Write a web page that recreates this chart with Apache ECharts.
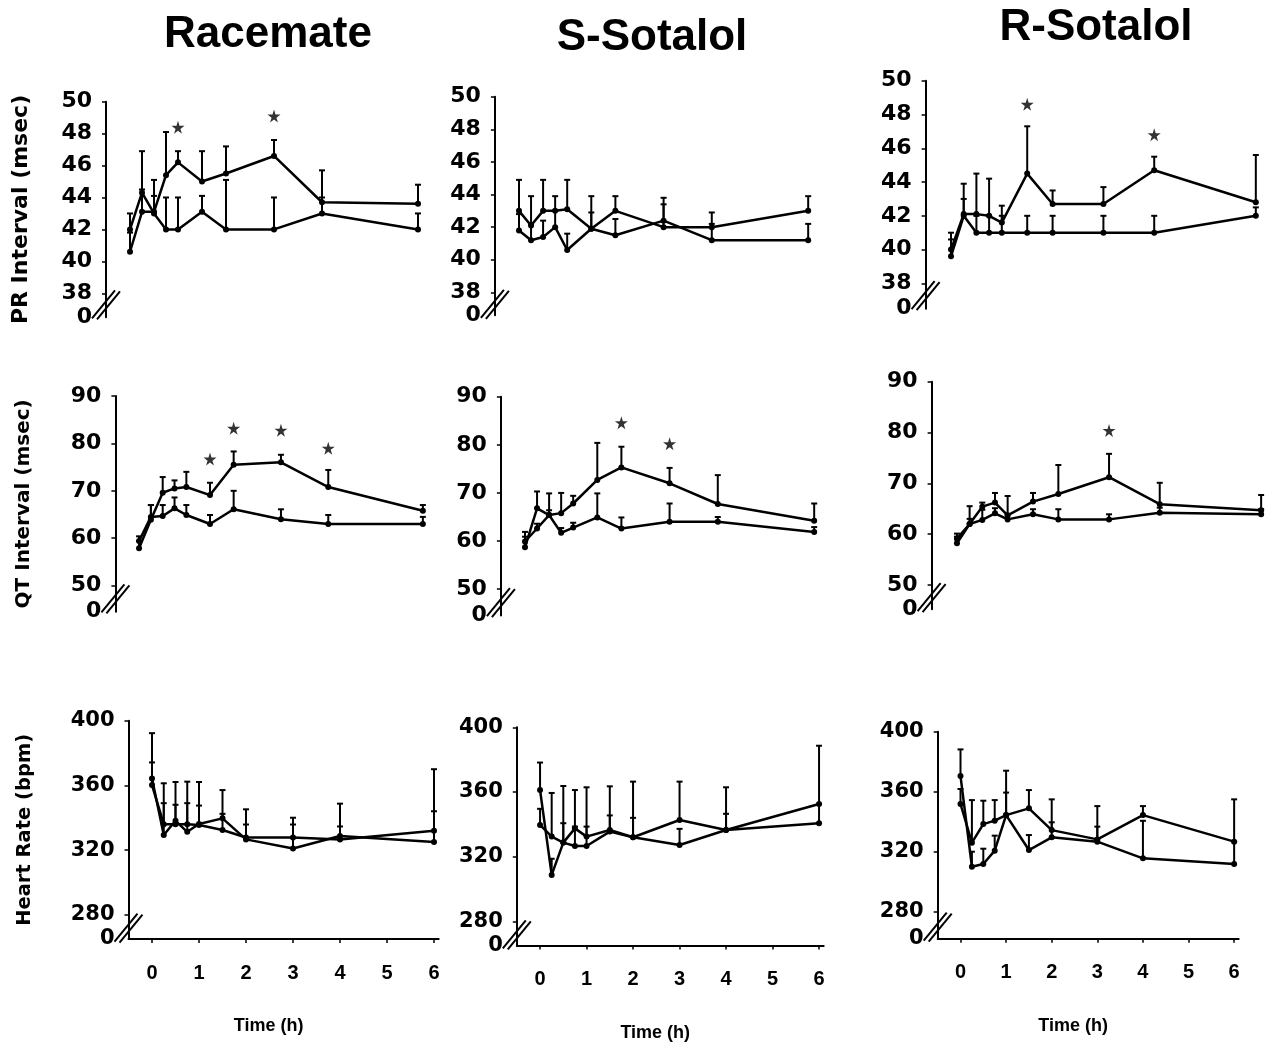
<!DOCTYPE html>
<html>
<head>
<meta charset="utf-8">
<title>Sotalol ECG</title>
<script src="https://cdn.jsdelivr.net/npm/echarts@6/dist/echarts.min.js"></script>
<style>
html, body { margin: 0; padding: 0; background: #fff; }
#main { width: 1275px; height: 1049px; }
</style>
</head>
<body>
<div id="main"></div>
<script>
var times = [0, 0.25, 0.5, 0.75, 1, 1.5, 2, 3, 4, 6];
var timeTicks = [0, 1, 2, 3, 4, 5, 6];
var prTicks = [38, 40, 42, 44, 46, 48, 50];
var qtTicks = [50, 60, 70, 80, 90];
var hrTicks = [280, 320, 360, 400];

// PR interval (msec)
var prRacA = [40.6, 43.1, 43.1, 45.4, 46.2, 45.0, 45.5, 46.6, 43.7, 43.6];
var prRacAErr = [1.2, 1.4, 1.0, 2.7, 0.7, 1.9, 1.7, 1.0, 2.0, 1.2];
var prRacB = [42.0, 44.3, 43.0, 42.0, 42.0, 43.1, 42.0, 42.0, 43.0, 42.0];
var prRacBErr = [1.0, 2.6, 2.1, 2.0, 2.0, 1.0, 3.1, 2.0, 1.0, 1.0];
var prRacStarT = [1, 3];
var prRacStarY = [48.4, 49.1];

var prSA = [43.0, 42.1, 43.0, 43.0, 43.1, 41.9, 43.0, 42.0, 42.0, 43.0];
var prSAErr = [1.9, 1.8, 1.9, 0.9, 1.8, 2.0, 0.9, 1.8, 0.9, 0.9];
var prSB = [41.8, 41.2, 41.4, 42.0, 40.6, 41.9, 41.5, 42.4, 41.2, 41.2];
var prSBErr = [1.0, 1.0, 1.0, 1.0, 1.0, 1.0, 1.0, 1.0, 1.0, 1.0];

var prRA = [40.0, 42.1, 42.1, 42.0, 41.6, 44.5, 42.7, 42.7, 44.7, 42.8];
var prRAErr = [1.0, 1.8, 2.4, 2.2, 1.0, 2.8, 0.8, 1.0, 0.8, 2.8];
var prRB = [39.6, 42.0, 41.0, 41.0, 41.0, 41.0, 41.0, 41.0, 41.0, 42.0];
var prRBErr = [1.0, 1.0, 1.0, 1.0, 1.0, 1.0, 1.0, 1.0, 1.0, 0.5];
var prRStarT = [1.5, 4];
var prRStarY = [48.6, 46.8];

// QT interval (msec)
var qtRacA = [57.9, 63.9, 69.6, 70.5, 70.8, 69.1, 75.5, 76.0, 70.8, 65.8];
var qtRacAErr = [1.5, 3.1, 3.3, 1.7, 3.2, 2.6, 2.8, 1.6, 3.6, 1.2];
var qtRacB = [59.4, 64.5, 64.7, 66.3, 64.9, 63.0, 66.1, 64.0, 63.0, 63.0];
var qtRacBErr = [1.0, 2.5, 2.3, 2.3, 2.1, 1.9, 3.9, 2.1, 1.9, 1.5];
var qtRacStarT = [1.5, 2, 3, 4];
var qtRacStarY = [76.7, 83.2, 82.8, 79.0];

var qtSA = [58.7, 66.8, 65.4, 65.8, 67.8, 72.7, 75.3, 72.0, 67.7, 64.2];
var qtSAErr = [3.2, 3.5, 4.5, 4.2, 1.6, 7.7, 4.3, 3.2, 6.0, 3.6];
var qtSB = [59.9, 62.6, 65.4, 61.7, 62.8, 64.9, 62.6, 64.0, 64.0, 61.9];
var qtSBErr = [1.0, 1.0, 1.0, 1.0, 1.0, 5.0, 2.3, 3.8, 1.0, 1.0];
var qtSStarT = [2, 3];
var qtSStarY = [84.6, 80.2];

var qtRA = [58.2, 62.0, 65.4, 66.2, 63.7, 66.4, 67.9, 71.2, 65.9, 64.7];
var qtRAErr = [1.3, 3.5, 0.8, 1.9, 3.8, 1.7, 5.7, 4.6, 4.2, 3.0];
var qtRB = [59.1, 62.0, 62.8, 64.1, 62.9, 63.9, 62.9, 62.9, 64.2, 63.9];
var qtRBErr = [1.0, 1.0, 2.0, 1.0, 1.0, 1.0, 2.0, 1.0, 1.0, 1.0];
var qtRStarT = [3];
var qtRStarY = [80.4];

// Heart rate (bpm)
var hrRacA = [364.3, 329.3, 338.1, 331.3, 336.1, 339.6, 326.6, 321.0, 328.7, 325.0];
var hrRacAErr = [28, 32, 24, 31, 26, 17.5, 18.6, 19, 20, 45];
var hrRacB = [360.2, 336.0, 336.0, 336.0, 335.5, 332.4, 327.8, 327.8, 326.6, 332.0];
var hrRacBErr = [14, 13, 12, 13, 12, 10, 8, 8, 8, 12];

var hrSA = [361.2, 308.7, 328.7, 337.5, 332.4, 336.5, 332.0, 342.7, 336.5, 352.6];
var hrSAErr = [17, 10, 35, 23.7, 30.5, 27, 34.4, 23.7, 26.4, 36];
var hrSB = [339.6, 332.4, 328.7, 326.6, 326.6, 335.5, 332.0, 327.2, 336.5, 340.6];
var hrSBErr = [10, 27, 12, 12, 12, 10, 12, 10, 10, 12];

var hrRA = [351.8, 326.0, 338.4, 340.7, 344.4, 348.9, 334.4, 328.2, 344.4, 326.7];
var hrRAErr = [10, 28.4, 15.6, 13.7, 29.6, 12.2, 20.5, 22.2, 6, 28.2];
var hrRB = [370.4, 310.0, 311.8, 320.7, 344.4, 321.1, 329.6, 326.7, 315.6, 311.8];
var hrRBErr = [17.8, 10, 10.2, 10, 15, 10, 10, 10, 25, 15];

var X_MIN = -0.5, X_MAX = 6.1;
var tickFont = 'DejaVu Sans';

// one entry per panel: where it sits and what it shows
var panels = [
	{ box: [106, 101.7, 316.8, 215.5], yMin: 36.5, yMax: 50, ticks: prTicks, brk: 37.3,
	  a: prRacA, aErr: prRacAErr, b: prRacB, bErr: prRacBErr, st: prRacStarT, sy: prRacStarY,
	  name: 'PR Interval (msec)', gap: 74, nameSize: 22 },
	{ box: [494.9, 96.7, 318.1, 218.5], yMin: 36.6, yMax: 50, ticks: prTicks, brk: 37.3,
	  a: prSA, aErr: prSAErr, b: prSB, bErr: prSBErr, st: [], sy: [] },
	{ box: [925.6, 80.7, 335.3, 228], yMin: 36.5, yMax: 50, ticks: prTicks, brk: 37.3,
	  a: prRA, aErr: prRAErr, b: prRB, bErr: prRBErr, st: prRStarT, sy: prRStarY },

	{ box: [115.4, 396, 312.2, 215.7], yMin: 44.5, yMax: 90, ticks: qtTicks, brk: 47.3,
	  a: qtRacA, aErr: qtRacAErr, b: qtRacB, bErr: qtRacBErr, st: qtRacStarT, sy: qtRacStarY,
	  name: 'QT Interval (msec)', gap: 82, nameSize: 20 },
	{ box: [500.9, 396.7, 318.1, 218.9], yMin: 44.5, yMax: 90, ticks: qtTicks, brk: 47.3,
	  a: qtSA, aErr: qtSAErr, b: qtSB, bErr: qtSBErr, st: qtSStarT, sy: qtSStarY },
	{ box: [931.6, 381.7, 334.6, 227.6], yMin: 45.2, yMax: 90, ticks: qtTicks, brk: 47.6,
	  a: qtRA, aErr: qtRAErr, b: qtRB, bErr: qtRBErr, st: qtRStarT, sy: qtRStarY },

	{ box: [128.5, 720.7, 310.2, 218.3], yMin: 265, yMax: 400, ticks: hrTicks, brk: 272, xAxis: true,
	  a: hrRacA, aErr: hrRacAErr, b: hrRacB, bErr: hrRacBErr, st: [], sy: [],
	  name: 'Heart Rate (bpm)', gap: 94, nameSize: 19.5 },
	{ box: [516.8, 727.3, 306.9, 218.3], yMin: 265, yMax: 400, ticks: hrTicks, brk: 272, xAxis: true,
	  a: hrSA, aErr: hrSAErr, b: hrSB, bErr: hrSBErr, st: [], sy: [] },
	{ box: [937.7, 731.7, 301, 207], yMin: 262, yMax: 400, ticks: hrTicks, brk: 270, xAxis: true,
	  a: hrRA, aErr: hrRAErr, b: hrRB, bErr: hrRBErr, st: [], sy: [] }
];

var starPath = 'path://M50,0 L61,35 L98,35 L68,57 L79,91 L50,70 L21,91 L32,57 L2,35 L39,35 Z';

function pairs(vals) {
	return times.map(function (t, i) { return [t, vals[i]]; });
}

function errData(vals, errs) {
	return times.map(function (t, i) { return [t, vals[i], vals[i] + errs[i]]; });
}

function renderErr(params, api) {
	var p0 = api.coord([api.value(0), api.value(1)]);
	var p1 = api.coord([api.value(0), api.value(2)]);
	var st = { stroke: '#000', lineWidth: 2 };
	return {
		type: 'group',
		children: [
			{ type: 'line', shape: { x1: p0[0], y1: p0[1], x2: p1[0], y2: p1[1] }, style: st },
			{ type: 'line', shape: { x1: p1[0] - 3, y1: p1[1], x2: p1[0] + 3, y2: p1[1] }, style: st }
		]
	};
}

// the "//" axis break
function renderBreak(params, api) {
	var p = api.coord([api.value(0), api.value(1)]);
	var st = { stroke: '#000', lineWidth: 2 };
	return {
		type: 'group',
		children: [
			{ type: 'line', shape: { x1: p[0] - 14, y1: p[1] + 14, x2: p[0] + 9, y2: p[1] - 14 }, style: st },
			{ type: 'line', shape: { x1: p[0] - 9, y1: p[1] + 15, x2: p[0] + 14, y2: p[1] - 13 }, style: st }
		]
	};
}

var grids = [], xAxes = [], yAxes = [], series = [];

panels.forEach(function (p, k) {
	grids.push({
		left: p.box[0], top: p.box[1], width: p.box[2], height: p.box[3],
		outerBoundsMode: 'none', containLabel: false
	});
	xAxes.push({
		type: 'value', gridIndex: k, min: X_MIN, max: X_MAX,
		show: !!p.xAxis,
		name: p.xAxis ? 'Time (h)' : '',
		nameLocation: 'middle', nameGap: 78,
		nameTextStyle: { fontFamily: 'Liberation Sans', fontWeight: 'bold', fontSize: 18, color: '#000', padding: [0, 30, 0, 0] },
		axisLine: { onZero: false, lineStyle: { color: '#000', width: 2 } },
		axisTick: { show: true, customValues: timeTicks, length: 4, lineStyle: { color: '#000', width: 1.5 } },
		axisLabel: { customValues: timeTicks, margin: 24, fontFamily: 'Liberation Sans', fontWeight: 'bold', fontSize: 20, color: '#000' },
		splitLine: { show: false }
	});
	var labelVals = [p.yMin].concat(p.ticks);
	yAxes.push({
		type: 'value', gridIndex: k, min: p.yMin, max: p.yMax,
		name: p.name || '',
		nameLocation: 'middle', nameRotate: 90, nameGap: p.gap || 0,
		nameTextStyle: { fontFamily: tickFont, fontWeight: 'bold', fontSize: p.nameSize || 20, color: '#000' },
		axisLine: { show: true, onZero: false, lineStyle: { color: '#000', width: 2 } },
		axisTick: { show: true, customValues: p.ticks, length: 4, lineStyle: { color: '#000', width: 1.5 } },
		axisLabel: {
			customValues: labelVals, margin: 14, showMinLabel: true, showMaxLabel: true, hideOverlap: false,
			fontFamily: tickFont, fontWeight: 'bold', fontSize: p.yMax > 100 ? 21 : 22, color: '#000',
			formatter: function (v) { return Math.abs(v - p.yMin) < 1e-6 ? '0' : String(v); }
		},
		splitLine: { show: false }
	});

	var lineStyle = { color: '#000', width: 2.5 };
	series.push({
		type: 'custom', xAxisIndex: k, yAxisIndex: k, renderItem: renderErr,
		encode: { x: 0, y: [1, 2] }, data: errData(p.a, p.aErr).concat(errData(p.b, p.bErr)), z: 2
	});
	series.push({
		type: 'line', xAxisIndex: k, yAxisIndex: k, data: pairs(p.a),
		symbol: 'circle', symbolSize: 6, lineStyle: lineStyle, itemStyle: { color: '#000' }, z: 3
	});
	series.push({
		type: 'line', xAxisIndex: k, yAxisIndex: k, data: pairs(p.b),
		symbol: 'circle', symbolSize: 6, lineStyle: lineStyle, itemStyle: { color: '#000' }, z: 3
	});
	if (p.st.length) {
		series.push({
			type: 'scatter', xAxisIndex: k, yAxisIndex: k, symbol: starPath, symbolSize: 13,
			itemStyle: { color: '#000' },
			data: p.st.map(function (t, i) { return [t, p.sy[i]]; })
		});
	}
	series.push({
		type: 'custom', xAxisIndex: k, yAxisIndex: k, renderItem: renderBreak, clip: false,
		encode: { x: 0, y: 1 }, data: [[X_MIN, p.brk]], z: 5
	});
});

var myChart = echarts.init(document.getElementById('main'));

var titleStyle = { fill: '#000', font: 'bold 44px "Liberation Sans"', textAlign: 'center', textVerticalAlign: 'middle' };

var option = {
	animation: false,
	backgroundColor: '#fff',
	grid: grids,
	xAxis: xAxes,
	yAxis: yAxes,
	series: series,
	graphic: [
		{ type: 'text', x: 268, y: 35, style: Object.assign({ text: 'Racemate' }, titleStyle) },
		{ type: 'text', x: 652, y: 38, style: Object.assign({ text: 'S-Sotalol' }, titleStyle) },
		{ type: 'text', x: 1096, y: 28, style: Object.assign({ text: 'R-Sotalol' }, titleStyle) }
	]
};

myChart.setOption(option);
</script>
</body>
</html>
